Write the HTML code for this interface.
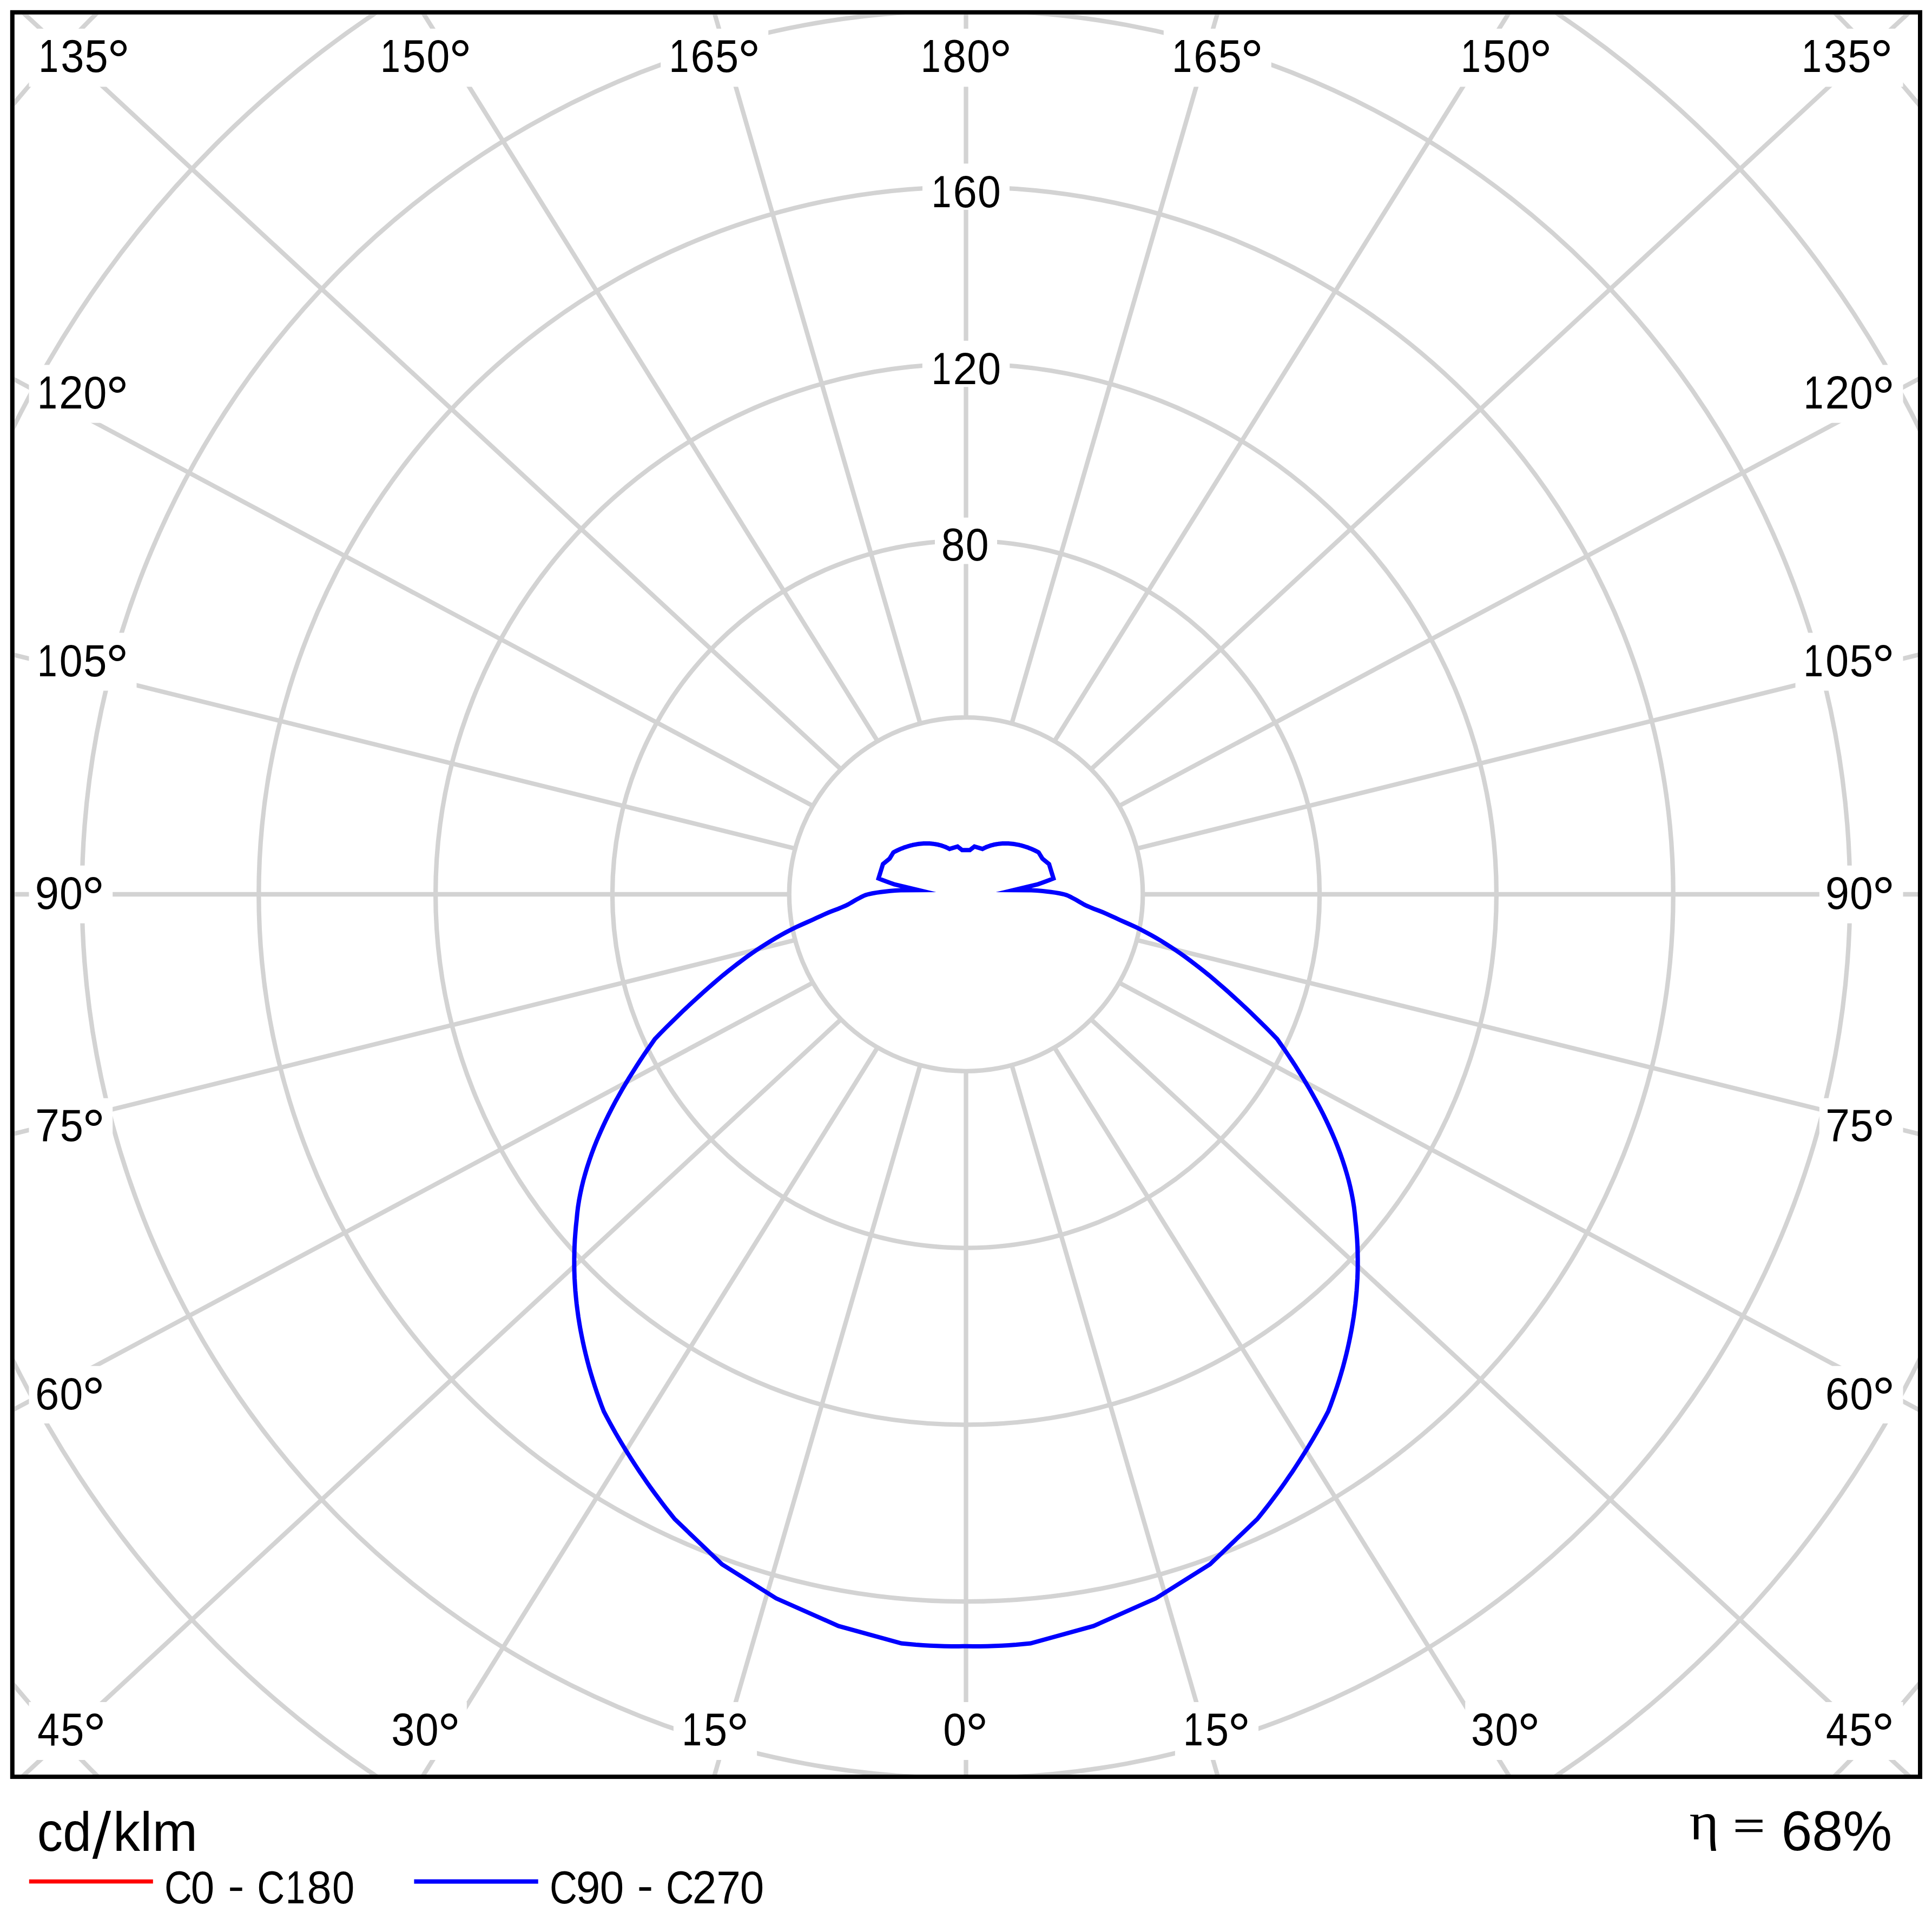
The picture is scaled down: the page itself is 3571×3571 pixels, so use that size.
<!DOCTYPE html>
<html><head><meta charset="utf-8"><title>Polar diagram</title>
<style>html,body{margin:0;padding:0;background:#fff;width:3571px;height:3571px;overflow:hidden}</style>
</head><body>
<svg width="3571" height="3571" viewBox="0 0 3571 3571" style="display:block">
<rect x="0" y="0" width="3571" height="3571" fill="#fff"/>
<defs><clipPath id="fr"><rect x="27.3" y="27.3" width="3517.7" height="3253.2"/></clipPath></defs>
<g clip-path="url(#fr)" fill="none" stroke="#d3d3d3" stroke-width="8.3">
<circle cx="1785.5" cy="1653.0" r="653.60"/>
<circle cx="1785.5" cy="1653.0" r="980.40"/>
<circle cx="1785.5" cy="1653.0" r="1307.20"/>
<circle cx="1785.5" cy="1653.0" r="1634.00"/>
<circle cx="1785.5" cy="1653.0" r="1960.80"/>
<circle cx="1785.5" cy="1653.0" r="2287.60"/>
<line x1="1785.50" y1="1979.80" x2="1785.50" y2="7529.80"/>
<line x1="1870.08" y1="1968.66" x2="3423.00" y2="7329.55"/>
<line x1="1948.90" y1="1936.02" x2="4948.90" y2="6742.46"/>
<line x1="2016.58" y1="1884.08" x2="6259.22" y2="5808.53"/>
<line x1="2068.52" y1="1816.40" x2="7264.67" y2="4591.40"/>
<line x1="2101.16" y1="1737.58" x2="7896.72" y2="3174.03"/>
<line x1="2112.30" y1="1653.00" x2="8112.30" y2="1653.00"/>
<line x1="2101.16" y1="1568.42" x2="7896.72" y2="131.97"/>
<line x1="2068.52" y1="1489.60" x2="7264.67" y2="-1285.40"/>
<line x1="2016.58" y1="1421.92" x2="6259.22" y2="-2502.53"/>
<line x1="1948.90" y1="1369.98" x2="4948.90" y2="-3436.46"/>
<line x1="1870.08" y1="1337.34" x2="3423.00" y2="-4023.55"/>
<line x1="1785.50" y1="1326.20" x2="1785.50" y2="-4223.80"/>
<line x1="1700.92" y1="1337.34" x2="148.00" y2="-4023.55"/>
<line x1="1622.10" y1="1369.98" x2="-1377.90" y2="-3436.46"/>
<line x1="1554.42" y1="1421.92" x2="-2688.22" y2="-2502.53"/>
<line x1="1502.48" y1="1489.60" x2="-3693.67" y2="-1285.40"/>
<line x1="1469.84" y1="1568.42" x2="-4325.72" y2="131.97"/>
<line x1="1458.70" y1="1653.00" x2="-4541.30" y2="1653.00"/>
<line x1="1469.84" y1="1737.58" x2="-4325.72" y2="3174.03"/>
<line x1="1502.48" y1="1816.40" x2="-3693.67" y2="4591.40"/>
<line x1="1554.42" y1="1884.08" x2="-2688.22" y2="5808.53"/>
<line x1="1622.10" y1="1936.02" x2="-1377.90" y2="6742.46"/>
<line x1="1700.92" y1="1968.66" x2="148.00" y2="7329.55"/>
<circle cx="1785.5" cy="1653.0" r="326.80" fill="#fff"/>
</g>
<g fill="#fff">
<rect x="53.50" y="53.00" width="199.00" height="107.40"/>
<rect x="687.50" y="53.00" width="199.00" height="107.40"/>
<rect x="1221.20" y="53.00" width="199.00" height="107.40"/>
<rect x="1686.30" y="53.00" width="199.00" height="107.40"/>
<rect x="2150.80" y="53.00" width="199.00" height="107.40"/>
<rect x="2684.50" y="53.00" width="199.00" height="107.40"/>
<rect x="3318.50" y="53.00" width="199.00" height="107.40"/>
<rect x="53.50" y="674.50" width="199.00" height="107.10"/>
<rect x="3318.50" y="674.50" width="199.00" height="107.10"/>
<rect x="53.50" y="1169.60" width="199.00" height="107.00"/>
<rect x="3318.50" y="1169.60" width="199.00" height="107.00"/>
<rect x="53.50" y="1599.80" width="154.70" height="106.80"/>
<rect x="3362.80" y="1599.80" width="154.70" height="106.80"/>
<rect x="53.50" y="2029.80" width="154.70" height="107.00"/>
<rect x="3362.80" y="2029.80" width="154.70" height="107.00"/>
<rect x="53.50" y="2524.80" width="154.70" height="106.20"/>
<rect x="3362.80" y="2524.80" width="154.70" height="106.20"/>
<rect x="53.50" y="3146.00" width="154.70" height="107.00"/>
<rect x="708.60" y="3146.00" width="154.20" height="107.00"/>
<rect x="1244.90" y="3146.00" width="154.20" height="107.00"/>
<rect x="1730.80" y="3146.00" width="109.40" height="107.00"/>
<rect x="2171.90" y="3146.00" width="154.20" height="107.00"/>
<rect x="2708.20" y="3146.00" width="154.20" height="107.00"/>
<rect x="3362.80" y="3146.00" width="154.70" height="107.00"/>
<rect x="1705.00" y="302.40" width="161.00" height="85.40"/>
<rect x="1704.80" y="629.80" width="161.50" height="85.40"/>
<rect x="1728.00" y="956.70" width="115.00" height="85.80"/>
</g>
<g font-family="Liberation Sans" style="font-kerning:none">
<text transform="translate(71.38,133.18) scale(0.7799,1)" font-size="84.46">1</text>
<text transform="translate(112.24,133.18) scale(0.9190,1)" font-size="84.46">3</text>
<text transform="translate(156.59,133.18) scale(0.9190,1)" font-size="84.46">5</text>
<text transform="translate(197.72,149.46) scale(0.9930,1)" font-size="107.79" fill="#000">°</text>
<text transform="translate(703.13,133.18) scale(0.7799,1)" font-size="84.46">1</text>
<text transform="translate(743.84,133.18) scale(0.9190,1)" font-size="84.46">5</text>
<text transform="translate(788.44,133.18) scale(0.9114,1)" font-size="84.46">0</text>
<text transform="translate(829.47,149.46) scale(0.9930,1)" font-size="107.79" fill="#000">°</text>
<text transform="translate(1236.83,133.18) scale(0.7799,1)" font-size="84.46">1</text>
<text transform="translate(1276.60,133.18) scale(0.9442,1)" font-size="84.46">6</text>
<text transform="translate(1322.04,133.18) scale(0.9190,1)" font-size="84.46">5</text>
<text transform="translate(1363.17,149.46) scale(0.9930,1)" font-size="107.79" fill="#000">°</text>
<text transform="translate(1701.93,133.18) scale(0.7799,1)" font-size="84.46">1</text>
<text transform="translate(1742.34,133.18) scale(0.9285,1)" font-size="84.46">8</text>
<text transform="translate(1787.24,133.18) scale(0.9114,1)" font-size="84.46">0</text>
<text transform="translate(1828.27,149.46) scale(0.9930,1)" font-size="107.79" fill="#000">°</text>
<text transform="translate(2166.43,133.18) scale(0.7799,1)" font-size="84.46">1</text>
<text transform="translate(2206.20,133.18) scale(0.9442,1)" font-size="84.46">6</text>
<text transform="translate(2251.64,133.18) scale(0.9190,1)" font-size="84.46">5</text>
<text transform="translate(2292.77,149.46) scale(0.9930,1)" font-size="107.79" fill="#000">°</text>
<text transform="translate(2700.13,133.18) scale(0.7799,1)" font-size="84.46">1</text>
<text transform="translate(2740.84,133.18) scale(0.9190,1)" font-size="84.46">5</text>
<text transform="translate(2785.44,133.18) scale(0.9114,1)" font-size="84.46">0</text>
<text transform="translate(2826.47,149.46) scale(0.9930,1)" font-size="107.79" fill="#000">°</text>
<text transform="translate(3330.13,133.18) scale(0.7799,1)" font-size="84.46">1</text>
<text transform="translate(3370.99,133.18) scale(0.9190,1)" font-size="84.46">3</text>
<text transform="translate(3415.34,133.18) scale(0.9190,1)" font-size="84.46">5</text>
<text transform="translate(3456.47,149.46) scale(0.9930,1)" font-size="107.79" fill="#000">°</text>
<text transform="translate(69.28,754.88) scale(0.7799,1)" font-size="84.46">1</text>
<text transform="translate(109.04,754.88) scale(0.9564,1)" font-size="84.46">2</text>
<text transform="translate(154.59,754.88) scale(0.9114,1)" font-size="84.46">0</text>
<text transform="translate(195.62,771.16) scale(0.9930,1)" font-size="107.79" fill="#000">°</text>
<text transform="translate(3333.78,754.88) scale(0.7799,1)" font-size="84.46">1</text>
<text transform="translate(3373.54,754.88) scale(0.9564,1)" font-size="84.46">2</text>
<text transform="translate(3419.09,754.88) scale(0.9114,1)" font-size="84.46">0</text>
<text transform="translate(3460.12,771.16) scale(0.9930,1)" font-size="107.79" fill="#000">°</text>
<text transform="translate(69.03,1249.59) scale(0.7904,1)" font-size="83.33">1</text>
<text transform="translate(109.84,1249.59) scale(0.9238,1)" font-size="83.33">0</text>
<text transform="translate(154.24,1249.59) scale(0.9314,1)" font-size="83.33">5</text>
<text transform="translate(195.37,1266.66) scale(0.9930,1)" font-size="107.79" fill="#000">°</text>
<text transform="translate(3333.53,1249.59) scale(0.7904,1)" font-size="83.33">1</text>
<text transform="translate(3374.34,1249.59) scale(0.9238,1)" font-size="83.33">0</text>
<text transform="translate(3418.74,1249.59) scale(0.9314,1)" font-size="83.33">5</text>
<text transform="translate(3459.87,1266.66) scale(0.9930,1)" font-size="107.79" fill="#000">°</text>
<text transform="translate(64.87,1680.27) scale(0.9370,1)" font-size="85.03">9</text>
<text transform="translate(110.09,1680.27) scale(0.9054,1)" font-size="85.03">0</text>
<text transform="translate(151.12,1696.16) scale(0.9930,1)" font-size="107.79" fill="#000">°</text>
<text transform="translate(3373.67,1680.27) scale(0.9370,1)" font-size="85.03">9</text>
<text transform="translate(3418.89,1680.27) scale(0.9054,1)" font-size="85.03">0</text>
<text transform="translate(3459.92,1696.16) scale(0.9930,1)" font-size="107.79" fill="#000">°</text>
<text transform="translate(65.10,2109.18) scale(0.9600,1)" font-size="84.32">7</text>
<text transform="translate(110.64,2109.18) scale(0.9205,1)" font-size="84.32">5</text>
<text transform="translate(151.77,2125.56) scale(0.9930,1)" font-size="107.79" fill="#000">°</text>
<text transform="translate(3373.90,2109.18) scale(0.9600,1)" font-size="84.32">7</text>
<text transform="translate(3419.44,2109.18) scale(0.9205,1)" font-size="84.32">5</text>
<text transform="translate(3460.57,2125.56) scale(0.9930,1)" font-size="107.79" fill="#000">°</text>
<text transform="translate(64.90,2604.78) scale(0.9474,1)" font-size="84.18">6</text>
<text transform="translate(110.44,2604.78) scale(0.9145,1)" font-size="84.18">0</text>
<text transform="translate(151.47,2621.26) scale(0.9930,1)" font-size="107.79" fill="#000">°</text>
<text transform="translate(3373.70,2604.78) scale(0.9474,1)" font-size="84.18">6</text>
<text transform="translate(3419.24,2604.78) scale(0.9145,1)" font-size="84.18">0</text>
<text transform="translate(3460.27,2621.26) scale(0.9930,1)" font-size="107.79" fill="#000">°</text>
<text transform="translate(69.27,3225.97) scale(0.8618,1)" font-size="84.74">4</text>
<text transform="translate(112.34,3225.97) scale(0.9159,1)" font-size="84.74">5</text>
<text transform="translate(153.47,3242.06) scale(0.9930,1)" font-size="107.79" fill="#000">°</text>
<text transform="translate(723.29,3225.97) scale(0.9159,1)" font-size="84.74">3</text>
<text transform="translate(767.74,3225.97) scale(0.9084,1)" font-size="84.74">0</text>
<text transform="translate(808.77,3242.06) scale(0.9930,1)" font-size="107.79" fill="#000">°</text>
<text transform="translate(1260.38,3225.97) scale(0.7773,1)" font-size="84.74">1</text>
<text transform="translate(1301.09,3225.97) scale(0.9159,1)" font-size="84.74">5</text>
<text transform="translate(1342.22,3242.06) scale(0.9930,1)" font-size="107.79" fill="#000">°</text>
<text transform="translate(1743.14,3225.97) scale(0.9084,1)" font-size="84.74">0</text>
<text transform="translate(1784.17,3242.06) scale(0.9930,1)" font-size="107.79" fill="#000">°</text>
<text transform="translate(2187.28,3225.97) scale(0.7773,1)" font-size="84.74">1</text>
<text transform="translate(2227.99,3225.97) scale(0.9159,1)" font-size="84.74">5</text>
<text transform="translate(2269.12,3242.06) scale(0.9930,1)" font-size="107.79" fill="#000">°</text>
<text transform="translate(2719.09,3225.97) scale(0.9159,1)" font-size="84.74">3</text>
<text transform="translate(2763.54,3225.97) scale(0.9084,1)" font-size="84.74">0</text>
<text transform="translate(2804.57,3242.06) scale(0.9930,1)" font-size="107.79" fill="#000">°</text>
<text transform="translate(3374.97,3225.97) scale(0.8618,1)" font-size="84.74">4</text>
<text transform="translate(3418.04,3225.97) scale(0.9159,1)" font-size="84.74">5</text>
<text transform="translate(3459.17,3242.06) scale(0.9930,1)" font-size="107.79" fill="#000">°</text>
<text transform="translate(1721.78,382.88) scale(0.7812,1)" font-size="84.32">1</text>
<text transform="translate(1761.55,382.88) scale(0.9458,1)" font-size="84.32">6</text>
<text transform="translate(1807.09,382.88) scale(0.9130,1)" font-size="84.32">0</text>
<text transform="translate(1721.83,709.78) scale(0.7825,1)" font-size="84.18">1</text>
<text transform="translate(1761.59,709.78) scale(0.9596,1)" font-size="84.18">2</text>
<text transform="translate(1807.14,709.78) scale(0.9145,1)" font-size="84.18">0</text>
<text transform="translate(1739.74,1035.98) scale(0.9285,1)" font-size="84.46">8</text>
<text transform="translate(1784.64,1035.98) scale(0.9114,1)" font-size="84.46">0</text>
</g>
<path d="M1785.5,3042.8 L1798.8,3042.9 L1812.0,3042.9 L1825.3,3042.7 L1838.5,3042.3 L1851.8,3041.7 L1865.0,3040.9 L1878.3,3040.0 L1891.5,3038.8 L1904.7,3037.5 L2021.3,3005.4 L2136.4,2954.3 L2236.5,2891.3 L2323.8,2807.9 L2331.5,2798.3 L2339.2,2788.6 L2346.7,2778.9 L2354.0,2769.2 L2361.3,2759.4 L2368.4,2749.6 L2375.4,2739.7 L2382.2,2729.8 L2389.0,2719.9 L2395.6,2709.9 L2402.1,2699.9 L2408.4,2689.9 L2414.7,2679.9 L2420.8,2669.8 L2426.8,2659.7 L2432.7,2649.6 L2438.4,2639.5 L2444.0,2629.3 L2449.5,2619.1 L2454.9,2608.9 L2459.3,2597.5 L2463.5,2585.9 L2467.5,2574.4 L2471.4,2562.8 L2475.1,2551.2 L2478.6,2539.5 L2482.0,2527.9 L2485.1,2516.2 L2488.1,2504.4 L2490.9,2492.7 L2493.5,2480.9 L2495.9,2469.1 L2498.2,2457.3 L2500.2,2445.5 L2502.1,2433.6 L2503.7,2421.7 L2505.2,2409.9 L2506.4,2398.0 L2507.5,2386.1 L2508.3,2374.1 L2509.0,2362.2 L2509.4,2350.3 L2509.6,2338.3 L2509.6,2326.4 L2509.4,2314.4 L2509.0,2302.5 L2508.4,2290.5 L2507.5,2278.6 L2506.5,2266.7 L2505.2,2254.7 L2504.1,2243.0 L2502.7,2231.0 L2500.8,2219.0 L2498.5,2206.8 L2495.9,2194.6 L2492.9,2182.3 L2489.5,2170.0 L2485.8,2157.6 L2481.8,2145.2 L2477.5,2132.9 L2472.9,2120.6 L2468.0,2108.3 L2462.8,2096.1 L2457.4,2084.0 L2451.8,2072.0 L2446.0,2060.1 L2440.0,2048.3 L2433.8,2036.6 L2427.4,2025.1 L2421.0,2013.8 L2414.4,2002.6 L2407.8,1991.6 L2401.0,1980.8 L2394.3,1970.2 L2387.5,1959.8 L2380.7,1949.6 L2373.9,1939.6 L2367.1,1929.9 L2360.5,1920.4 L2350.0,1909.5 L2339.6,1899.0 L2329.3,1888.8 L2319.1,1878.9 L2309.1,1869.2 L2299.2,1859.9 L2289.5,1850.9 L2280.0,1842.2 L2270.7,1833.8 L2261.6,1825.7 L2252.6,1817.9 L2243.7,1810.3 L2234.9,1802.8 L2226.0,1795.6 L2217.1,1788.6 L2208.3,1781.8 L2199.6,1775.2 L2190.9,1768.8 L2182.1,1762.5 L2173.3,1756.5 L2164.3,1750.5 L2155.3,1744.8 L2146.2,1739.2 L2137.1,1733.8 L2127.9,1728.5 L2118.6,1723.4 L2109.2,1718.5 L2099.4,1713.7 L2089.2,1709.0 L2079.1,1704.5 L2069.7,1700.3 L2061.3,1696.4 L2053.4,1692.8 L2045.8,1689.3 L2038.1,1686.0 L2029.7,1682.7 L2021.6,1679.7 L2014.8,1676.9 L2008.7,1674.3 L2003.8,1671.9 L1999.7,1669.6 L1996.1,1667.5 L1992.8,1665.5 L1989.4,1663.5 L1985.7,1661.5 L1982.3,1659.7 L1978.9,1657.9 L1975.3,1656.1 L1971.0,1654.4 L1965.8,1652.8 L1958.6,1651.3 L1950.6,1649.9 L1942.6,1648.7 L1934.1,1647.7 L1925.3,1646.7 L1916.0,1646.0 L1906.2,1645.5 L1873.2,1645.3 L1918.6,1634.3 L1925.2,1632.0 L1932.1,1629.4 L1939.4,1626.7 L1947.2,1623.7 L1939.0,1597.1 L1926.8,1587.1 L1919.7,1575.5 L1918.3,1574.8 L1916.9,1574.0 L1915.5,1573.3 L1914.1,1572.6 L1912.7,1571.9 L1911.3,1571.3 L1909.9,1570.6 L1908.5,1570.0 L1907.1,1569.4 L1905.7,1568.8 L1904.3,1568.3 L1902.9,1567.7 L1901.5,1567.2 L1900.1,1566.6 L1898.7,1566.1 L1897.3,1565.7 L1895.9,1565.2 L1894.5,1564.7 L1893.1,1564.3 L1891.7,1563.9 L1890.3,1563.5 L1888.9,1563.1 L1887.5,1562.7 L1886.1,1562.4 L1884.7,1562.1 L1883.4,1561.7 L1882.0,1561.4 L1880.6,1561.2 L1879.2,1560.9 L1877.8,1560.7 L1876.5,1560.4 L1875.1,1560.2 L1873.7,1560.0 L1872.4,1559.8 L1871.0,1559.7 L1869.7,1559.5 L1868.3,1559.4 L1867.0,1559.3 L1865.6,1559.2 L1864.3,1559.1 L1863.0,1559.0 L1861.6,1559.0 L1860.3,1559.0 L1859.0,1559.0 L1857.7,1559.0 L1856.4,1559.0 L1855.0,1559.0 L1853.8,1559.1 L1852.5,1559.1 L1851.2,1559.2 L1849.9,1559.3 L1848.6,1559.4 L1847.3,1559.6 L1846.1,1559.7 L1844.8,1559.9 L1843.6,1560.1 L1842.3,1560.3 L1841.1,1560.5 L1839.9,1560.7 L1838.6,1560.9 L1837.4,1561.2 L1836.2,1561.5 L1835.0,1561.8 L1833.8,1562.1 L1832.7,1562.4 L1831.5,1562.7 L1830.3,1563.1 L1829.2,1563.5 L1828.0,1563.9 L1826.9,1564.3 L1825.8,1564.7 L1824.6,1565.1 L1823.5,1565.5 L1822.4,1566.0 L1821.3,1566.5 L1820.3,1567.0 L1819.2,1567.5 L1818.1,1568.0 L1817.1,1568.5 L1816.0,1569.1 L1801.1,1564.7 L1792.7,1571.2 L1785.5,1571.2 L1778.3,1571.2 L1769.9,1564.7 L1755.0,1569.1 L1753.9,1568.5 L1752.9,1568.0 L1751.8,1567.5 L1750.7,1567.0 L1749.7,1566.5 L1748.6,1566.0 L1747.5,1565.5 L1746.4,1565.1 L1745.2,1564.7 L1744.1,1564.3 L1743.0,1563.9 L1741.8,1563.5 L1740.7,1563.1 L1739.5,1562.7 L1738.3,1562.4 L1737.2,1562.1 L1736.0,1561.8 L1734.8,1561.5 L1733.6,1561.2 L1732.4,1560.9 L1731.1,1560.7 L1729.9,1560.5 L1728.7,1560.3 L1727.4,1560.1 L1726.2,1559.9 L1724.9,1559.7 L1723.7,1559.6 L1722.4,1559.4 L1721.1,1559.3 L1719.8,1559.2 L1718.5,1559.1 L1717.2,1559.1 L1716.0,1559.0 L1714.6,1559.0 L1713.3,1559.0 L1712.0,1559.0 L1710.7,1559.0 L1709.4,1559.0 L1708.0,1559.0 L1706.7,1559.1 L1705.4,1559.2 L1704.0,1559.3 L1702.7,1559.4 L1701.3,1559.5 L1700.0,1559.7 L1698.6,1559.8 L1697.3,1560.0 L1695.9,1560.2 L1694.5,1560.4 L1693.2,1560.7 L1691.8,1560.9 L1690.4,1561.2 L1689.0,1561.4 L1687.6,1561.7 L1686.3,1562.1 L1684.9,1562.4 L1683.5,1562.7 L1682.1,1563.1 L1680.7,1563.5 L1679.3,1563.9 L1677.9,1564.3 L1676.5,1564.7 L1675.1,1565.2 L1673.7,1565.7 L1672.3,1566.1 L1670.9,1566.6 L1669.5,1567.2 L1668.1,1567.7 L1666.7,1568.3 L1665.3,1568.8 L1663.9,1569.4 L1662.5,1570.0 L1661.1,1570.6 L1659.7,1571.3 L1658.3,1571.9 L1656.9,1572.6 L1655.5,1573.3 L1654.1,1574.0 L1652.7,1574.8 L1651.3,1575.5 L1644.2,1587.1 L1632.0,1597.1 L1623.8,1623.7 L1631.6,1626.7 L1638.9,1629.4 L1645.8,1632.0 L1652.4,1634.3 L1697.8,1645.3 L1664.8,1645.5 L1655.0,1646.0 L1645.7,1646.7 L1636.9,1647.7 L1628.4,1648.7 L1620.4,1649.9 L1612.4,1651.3 L1605.2,1652.8 L1600.0,1654.4 L1595.7,1656.1 L1592.1,1657.9 L1588.7,1659.7 L1585.3,1661.5 L1581.6,1663.5 L1578.2,1665.5 L1574.9,1667.5 L1571.3,1669.6 L1567.2,1671.9 L1562.3,1674.3 L1556.2,1676.9 L1549.4,1679.7 L1541.3,1682.7 L1532.9,1686.0 L1525.2,1689.3 L1517.6,1692.8 L1509.7,1696.4 L1501.3,1700.3 L1491.9,1704.5 L1481.8,1709.0 L1471.6,1713.7 L1461.8,1718.5 L1452.4,1723.4 L1443.1,1728.5 L1433.9,1733.8 L1424.8,1739.2 L1415.7,1744.8 L1406.7,1750.5 L1397.7,1756.5 L1388.9,1762.5 L1380.1,1768.8 L1371.4,1775.2 L1362.7,1781.8 L1353.9,1788.6 L1345.0,1795.6 L1336.1,1802.8 L1327.3,1810.3 L1318.4,1817.9 L1309.4,1825.7 L1300.3,1833.8 L1291.0,1842.2 L1281.5,1850.9 L1271.8,1859.9 L1261.9,1869.2 L1251.9,1878.9 L1241.7,1888.8 L1231.4,1899.0 L1221.0,1909.5 L1210.5,1920.4 L1203.9,1929.9 L1197.1,1939.6 L1190.3,1949.6 L1183.5,1959.8 L1176.7,1970.2 L1170.0,1980.8 L1163.2,1991.6 L1156.6,2002.6 L1150.0,2013.8 L1143.6,2025.1 L1137.2,2036.6 L1131.0,2048.3 L1125.0,2060.1 L1119.2,2072.0 L1113.6,2084.0 L1108.2,2096.1 L1103.0,2108.3 L1098.1,2120.6 L1093.5,2132.9 L1089.2,2145.2 L1085.2,2157.6 L1081.5,2170.0 L1078.1,2182.3 L1075.1,2194.6 L1072.5,2206.8 L1070.2,2219.0 L1068.3,2231.0 L1066.9,2243.0 L1065.8,2254.7 L1064.5,2266.7 L1063.5,2278.6 L1062.6,2290.5 L1062.0,2302.5 L1061.6,2314.4 L1061.4,2326.4 L1061.4,2338.3 L1061.6,2350.3 L1062.0,2362.2 L1062.7,2374.1 L1063.5,2386.1 L1064.6,2398.0 L1065.8,2409.9 L1067.3,2421.7 L1068.9,2433.6 L1070.8,2445.5 L1072.8,2457.3 L1075.1,2469.1 L1077.5,2480.9 L1080.1,2492.7 L1082.9,2504.4 L1085.9,2516.2 L1089.0,2527.9 L1092.4,2539.5 L1095.9,2551.2 L1099.6,2562.8 L1103.5,2574.4 L1107.5,2585.9 L1111.7,2597.5 L1116.1,2608.9 L1121.5,2619.1 L1127.0,2629.3 L1132.6,2639.5 L1138.3,2649.6 L1144.2,2659.7 L1150.2,2669.8 L1156.3,2679.9 L1162.6,2689.9 L1168.9,2699.9 L1175.4,2709.9 L1182.0,2719.9 L1188.8,2729.8 L1195.6,2739.7 L1202.6,2749.6 L1209.7,2759.4 L1217.0,2769.2 L1224.3,2778.9 L1231.8,2788.6 L1239.5,2798.3 L1247.2,2807.9 L1334.5,2891.3 L1434.6,2954.3 L1549.7,3005.4 L1666.3,3037.5 L1679.5,3038.8 L1692.7,3040.0 L1706.0,3040.9 L1719.2,3041.7 L1732.5,3042.3 L1745.7,3042.7 L1759.0,3042.9 L1772.2,3042.9 Z" fill="none" stroke="#0000ff" stroke-width="8" stroke-linejoin="miter" stroke-miterlimit="10"/>
<rect x="22.8" y="22.8" width="3526.20" height="3261.30" fill="none" stroke="#000" stroke-width="8"/>
<g font-family="Liberation Sans" style="font-kerning:none">
<text transform="translate(68.78,3420.80) scale(0.9299,1)" font-size="101.85">cd</text>
<text transform="translate(208.83,3420.80) scale(0.9868,1)" font-size="101.85">klm</text>
<text transform="translate(303.92,3517.97) scale(0.8301,1)" font-size="85.03">C</text>
<text transform="translate(352.85,3517.97) scale(0.9177,1)" font-size="85.03">0</text>
<text transform="translate(475.32,3517.97) scale(0.8301,1)" font-size="85.03">C</text>
<text transform="translate(527.95,3517.97) scale(0.7638,1)" font-size="85.03">1</text>
<text transform="translate(567.56,3517.97) scale(0.9574,1)" font-size="85.03">8</text>
<text transform="translate(613.91,3517.97) scale(0.8709,1)" font-size="85.03">0</text>
<text transform="translate(1015.92,3518.17) scale(0.8296,1)" font-size="84.89">C</text>
<text transform="translate(1064.64,3518.17) scale(0.9462,1)" font-size="84.89">9</text>
<text transform="translate(1108.78,3518.17) scale(0.9414,1)" font-size="84.89">0</text>
<text transform="translate(1230.89,3518.17) scale(0.8371,1)" font-size="84.89">C</text>
<text transform="translate(1279.77,3518.17) scale(0.9439,1)" font-size="84.89">2</text>
<text transform="translate(1324.18,3518.17) scale(0.9459,1)" font-size="84.89">7</text>
<text transform="translate(1367.68,3518.17) scale(0.9414,1)" font-size="84.89">0</text>
<rect x="425.2" y="3488.8" width="22.4" height="6.3" fill="#000"/>
<rect x="1181.5" y="3488.2" width="22.0" height="6.6" fill="#000"/>
<text transform="translate(3292.40,3420.39) scale(0.9940,1)" font-size="102.96" fill="#000">68%</text>
<text font-family="Liberation Serif" transform="translate(3122.56,3400.42) scale(1.0639,1)" font-size="98.53" fill="#000">η</text>
</g>
<polygon points="170.7,3435.8 179.5,3435.8 205.2,3347 196.4,3347" fill="#000"/>
<rect x="3207.8" y="3363.4" width="49.9" height="5.4" fill="#000"/>
<rect x="3207.8" y="3380.9" width="49.9" height="5.4" fill="#000"/>
<rect x="53.8" y="3473.8" width="229" height="7.6" fill="#ff0000"/>
<rect x="765.4" y="3473.6" width="229.3" height="8.1" fill="#0000ff"/>
</svg>
</body></html>
